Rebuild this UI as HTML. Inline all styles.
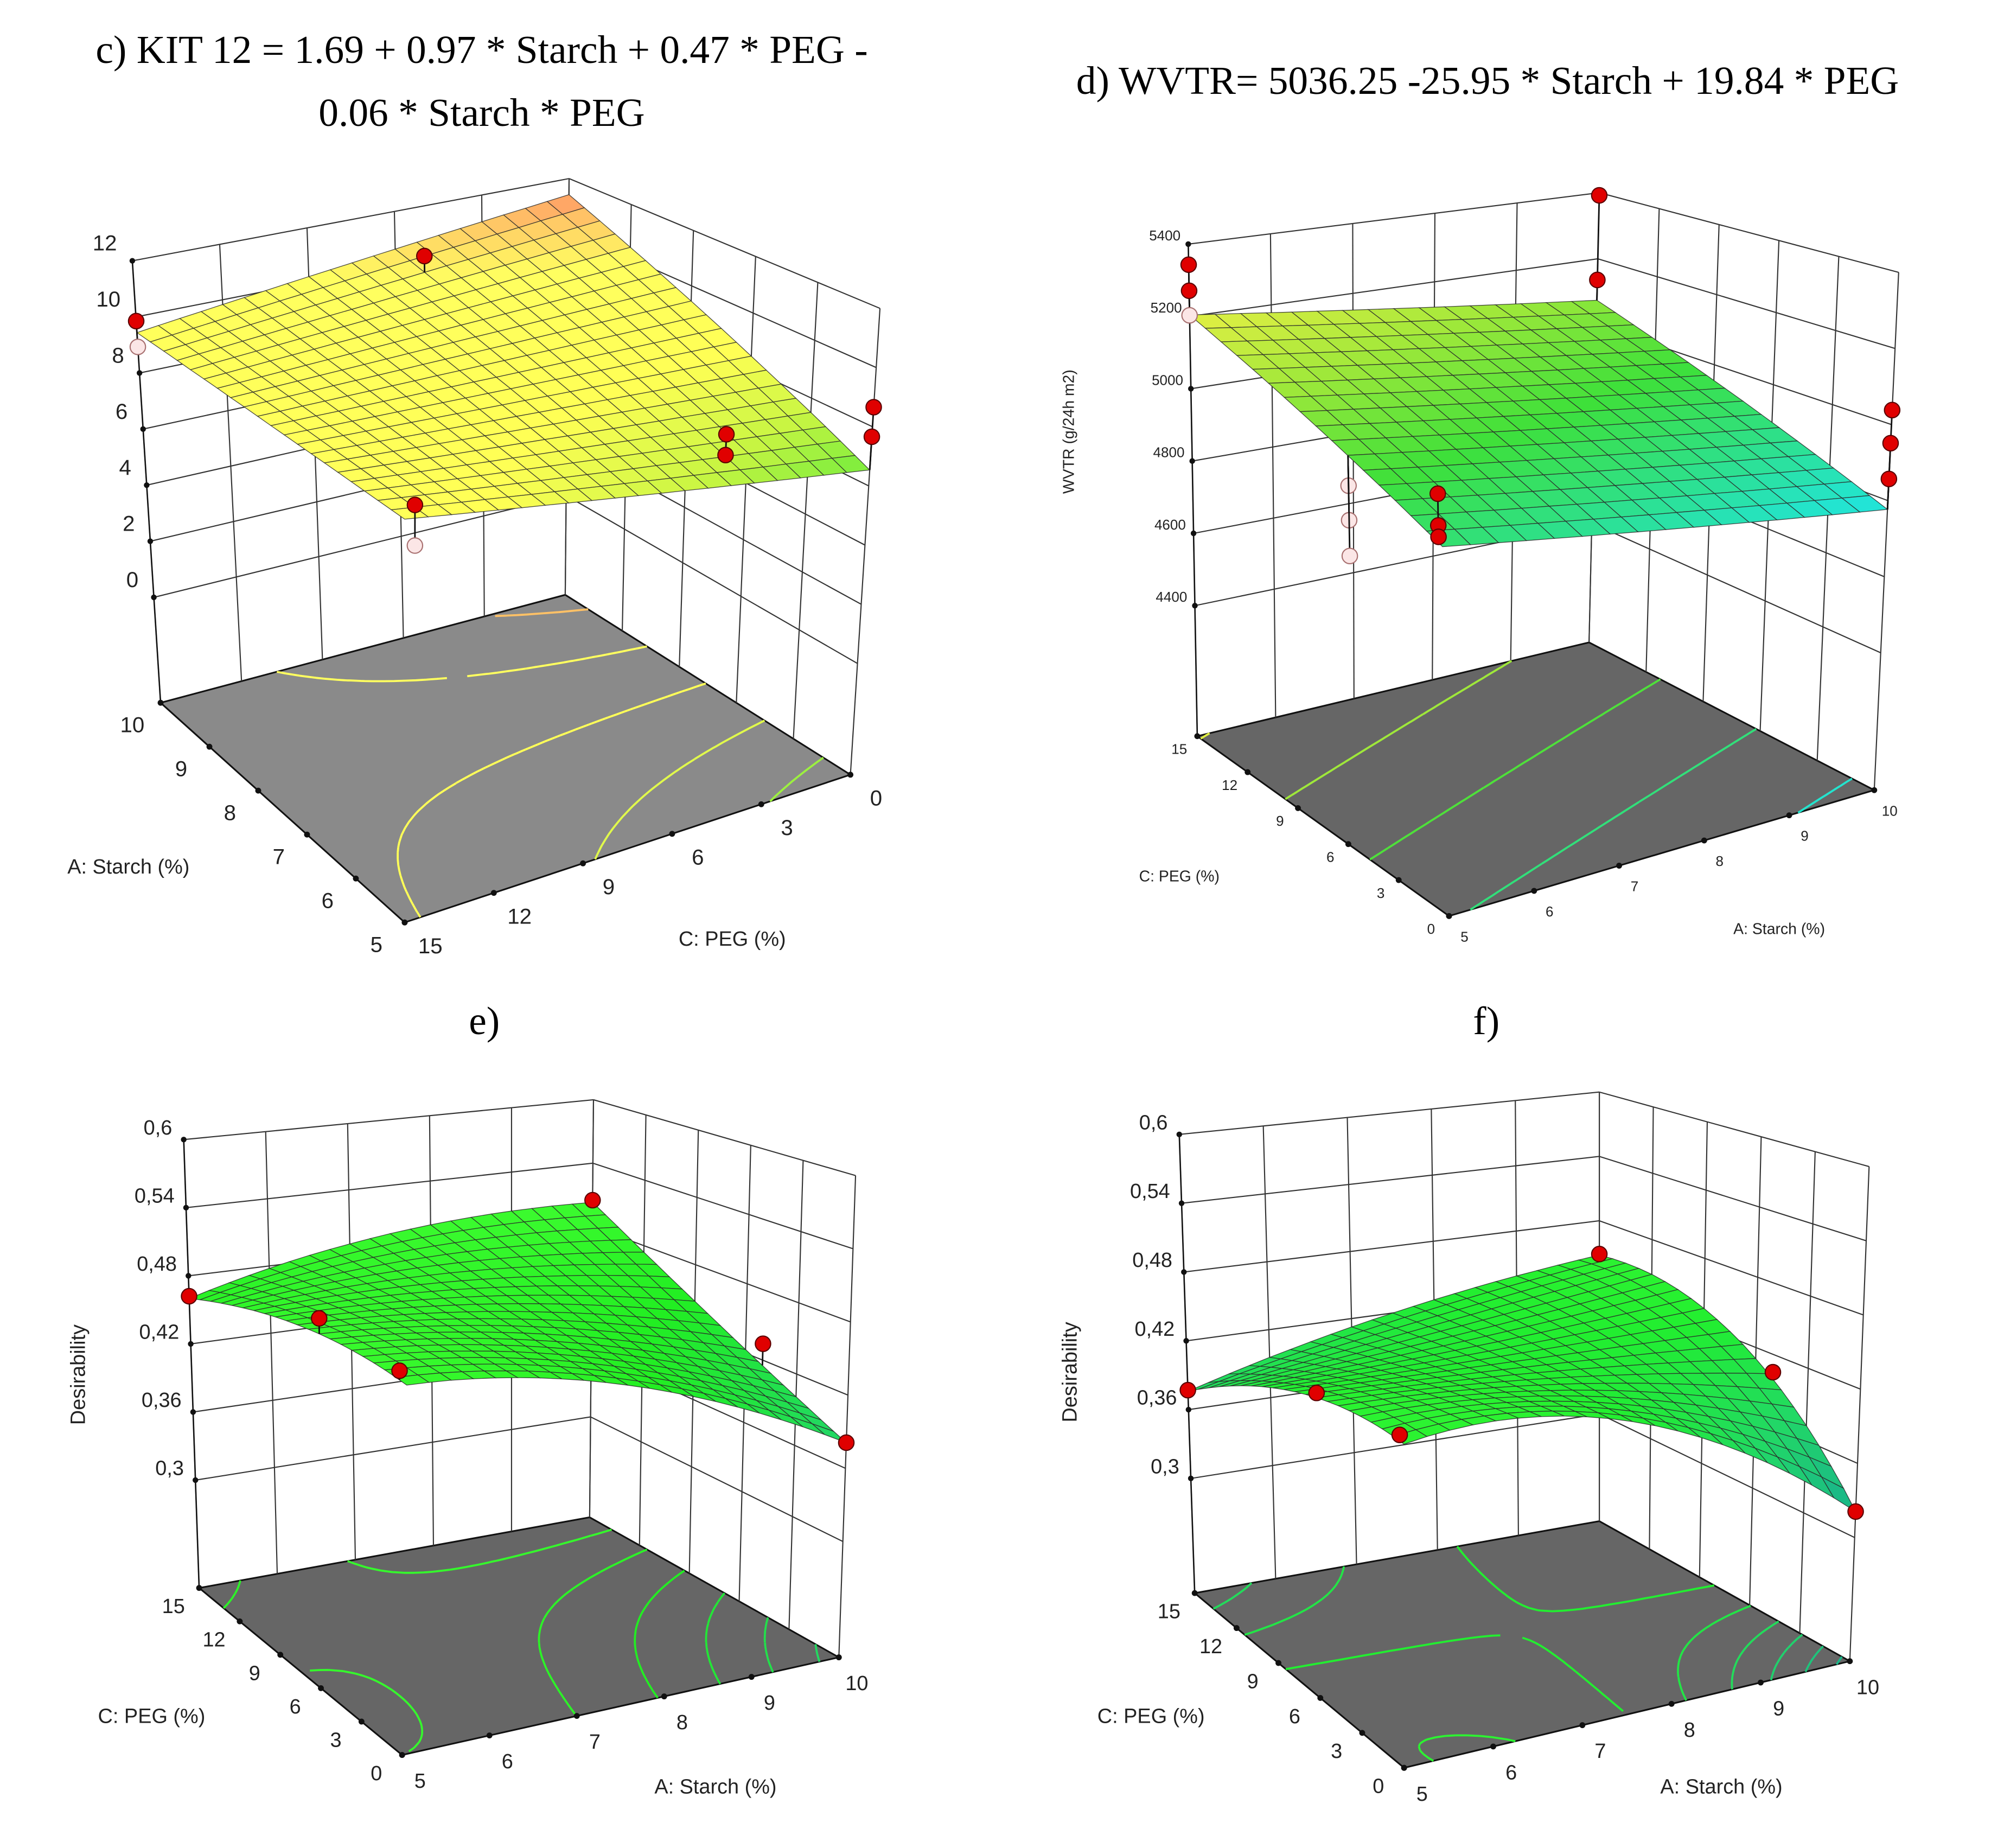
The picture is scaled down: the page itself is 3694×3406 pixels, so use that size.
<!DOCTYPE html>
<html><head><meta charset="utf-8"><style>
html,body{margin:0;padding:0;background:#fff}
svg{display:block}
.ser{font-family:"Liberation Serif",serif;fill:#000}
.san{font-family:"Liberation Sans",sans-serif;fill:#222}
</style></head><body>
<svg id="fig" width="3694" height="3406" viewBox="0 0 1560 1438.4" xmlns="http://www.w3.org/2000/svg">
<rect width="1560" height="1438.4" fill="#fff"/>
<text class="ser" x="375" y="49" font-size="31" text-anchor="middle">c) KIT 12 = 1.69 + 0.97 * Starch + 0.47 * PEG -</text>
<text class="ser" x="375" y="98" font-size="31" text-anchor="middle">0.06 * Starch * PEG</text>
<text class="ser" x="1158" y="73" font-size="31" text-anchor="middle">d) WVTR= 5036.25 -25.95 * Starch + 19.84 * PEG</text>
<text class="ser" x="377" y="805" font-size="31" text-anchor="middle">e)</text>
<text class="ser" x="1157" y="805" font-size="31" text-anchor="middle">f)</text>
<g id="layer"></g>
</svg>
<script>
// ---- data ----
const aTicks=[5,6,7,8,9,10];
const cTicks=[0,3,6,9,12,15];
const kitCoef=[1.69,0.97,0.47,-0.06];
const wvtrCoef=[5036.25,-25.95,19.84];
// desirability surfaces: rows A=5,7.5,10 ; cols C=0,7.5,15
const eGridA5=[0.49,0.49,0.46];
const eGridA75=[0.46,0.475,0.496];
const eGridA10=[0.381,0.435,0.503];
const fGridA5=[0.447,0.435,0.376];
const fGridA75=[0.43,0.43,0.42];
const fGridA10=[0.321,0.425,0.448];
const kitZTicks=[0,2,4,6,8,10,12];
const wvtrZTicks=[4400,4600,4800,5000,5200,5400];
const desZTicks=[0.3,0.36,0.42,0.48,0.54,0.6];
const kitPtA=[10,10,9.5,5.1,5.1,5.5,5.5,5,5];
const kitPtC=[15,15,6,14.5,14.5,3.75,3.75,0,0];
const kitPtZ=[9.85,8.93,10.9,9.3,8.0,8.3,7.6,8.66,7.66];
const wvtrPtA=[5,5,5,10,10,10,10,10,5.05,5.05,5.05,5,5,5];
const wvtrPtC=[15,15,15,15,15,0,0,0,0.5,0.5,0.5,5.6,5.6,5.6];
const wvtrPtZ=[5343,5271,5203,5392,5136,5038,4951,4857,5020,4945,4918,4943,4857,4768];
const ePtA=[5,5,5,10,10,10];
const ePtC=[15,6,0.5,15,5,0];
const ePtZ=[0.462,0.505,0.498,0.505,0.434,0.381];
const fPtA=[5,5,5,10,10,10];
const fPtC=[15,6,0.3,15,5,0];
const fPtZ=[0.377,0.445,0.452,0.449,0.405,0.321];
const kitLevels=[7,8,9,10,11];
const wvtrLevels=[4800,4900,5000,5100,5200];
const eLevels=[0.39,0.41,0.43,0.45,0.47,0.49];
const fLevels=[0.33,0.35,0.37,0.39,0.41,0.43,0.45];

const NS="http://www.w3.org/2000/svg";
const layer=document.getElementById('layer');
function mk(tag,attrs,parent){const e=document.createElementNS(NS,tag);for(const k in attrs)e.setAttribute(k,attrs[k]);(parent||layer).appendChild(e);return e;}
function hex(h){return [parseInt(h.substr(1,2),16),parseInt(h.substr(3,2),16),parseInt(h.substr(5,2),16)];}
function cmap(stops,z){
  if(z<=stops[0][0])return stops[0][1];
  for(let i=1;i<stops.length;i++){if(z<=stops[i][0]){const t=(z-stops[i-1][0])/(stops[i][0]-stops[i-1][0]);const a=hex(stops[i-1][1]),b=hex(stops[i][1]);return 'rgb('+a.map((v,j)=>Math.round(v+(b[j]-v)*t)).join(',')+')';}}
  return stops[stops.length-1][1];
}
function L(t){return [2*(t-.5)*(t-1),-4*t*(t-1),2*t*(t-.5)];}
function quadGrid(g0,g1,g2){return (A,C)=>{const lu=L((A-5)/5),lv=L(C/15);const G=[g0,g1,g2];let s=0;for(let i=0;i<3;i++)for(let j=0;j<3;j++)s+=lu[i]*lv[j]*G[i][j];return s;};}

const panels=[
 {id:'c',F:[[662,603],[315,718],[440,463],[125,547]],T:[[685,240],[315,333],[443,139],[103,203]],zF:-3.76,zT:12,
  fn:(A,C)=>kitCoef[0]+kitCoef[1]*A+kitCoef[2]*C+kitCoef[3]*A*C,
  stops:[[6.0,'#44e83a'],[7.5,'#c8f542'],[8.6,'#ffff55'],[10.2,'#ffff60'],[10.9,'#ffcc66'],[11.5,'#ff8866']],
  floor:'#8a8a8a',front:[0,1],walls:[['u',1],['v',0]],zc:[1,1],
  aEdge:1,cEdge:0,aOff:[-22,17],cOff:[20,18],zTicks:kitZTicks,zFmt:v=>String(v),fs:17,zOff:[-12,-8],
  pA:kitPtA,pC:kitPtC,pZ:kitPtZ,levels:kitLevels,N:20,
  ztitle:null,aTitle:[100,680,'A: Starch (%)'],cTitle:[570,736,'C: PEG (%)'],tfs:16},
 {id:'d',F:[[1128,713],[932,573],[1459,615],[1237,500]],T:[[1120,262],[925,190],[1478,212],[1245,150]],zF:4039,zT:5400,
  fn:(A,C)=>wvtrCoef[0]+wvtrCoef[1]*A+wvtrCoef[2]*C,
  stops:[[4760,'#1ee6f0'],[4880,'#2ee08a'],[4980,'#3ee03a'],[5100,'#9fe83a'],[5220,'#eef045']],
  floor:'#666666',front:[0,0],walls:[['u',1],['v',1]],zc:[0,1],
  aEdge:0,cEdge:0,aOff:[12,16],cOff:[-14,10],zTicks:wvtrZTicks,zFmt:v=>String(v),fs:11,zOff:[-6,-3],
  pA:wvtrPtA,pC:wvtrPtC,pZ:wvtrPtZ,levels:wvtrLevels,N:16,
  ztitle:[836,336,'WVTR (g/24h m2)'],aTitle:[1385,727,'A: Starch (%)'],cTitle:[918,686,'C: PEG (%)'],tfs:12},
 {id:'e',F:[[313,1366],[155,1236],[653,1290],[459,1181]],T:[[318,967],[143,887],[666,915],[462,856]],zF:0.205,zT:0.6,
  fn:quadGrid(eGridA5,eGridA75,eGridA10),
  stops:[[0.33,'#20c0a0'],[0.40,'#22dd55'],[0.45,'#22ee22'],[0.52,'#44ff33']],
  floor:'#666666',front:[0,0],walls:[['u',1],['v',1]],zc:[0,1],
  aEdge:0,cEdge:0,aOff:[14,20],cOff:[-20,14],zTicks:desZTicks,zFmt:v=>String(v).replace('.',','),fs:16,zOff:[-9,-4],
  pA:ePtA,pC:ePtC,pZ:ePtZ,levels:eLevels,N:20,
  ztitle:[66,1070,'Desirability'],aTitle:[557,1396,'A: Starch (%)'],cTitle:[118,1341,'C: PEG (%)'],tfs:16},
 {id:'f',F:[[1093,1376],[930,1240],[1440,1293],[1245,1184]],T:[[1093,968],[918,883],[1455,908],[1245,850]],zF:0.2,zT:0.6,
  fn:quadGrid(fGridA5,fGridA75,fGridA10),
  stops:[[0.32,'#18b090'],[0.38,'#22d866'],[0.43,'#22ee30'],[0.50,'#44ff33']],
  floor:'#666666',front:[0,0],walls:[['u',1],['v',1]],zc:[0,1],
  aEdge:0,cEdge:0,aOff:[14,20],cOff:[-20,14],zTicks:desZTicks,zFmt:v=>String(v).replace('.',','),fs:16,zOff:[-9,-4],
  pA:fPtA,pC:fPtC,pZ:fPtZ,levels:fLevels,N:20,
  ztitle:[838,1068,'Desirability'],aTitle:[1340,1396,'A: Starch (%)'],cTitle:[896,1341,'C: PEG (%)'],tfs:16}
];

function bil(P,u,v){return [0,1].map(k=>(1-u)*(1-v)*P[0][k]+(1-u)*v*P[1][k]+u*(1-v)*P[2][k]+u*v*P[3][k]);}
function proj(p,u,v,z){const f=bil(p.F,u,v),t=bil(p.T,u,v),s=(z-p.zF)/(p.zT-p.zF);return [f[0]+s*(t[0]-f[0]),f[1]+s*(t[1]-f[1])];}
const uA=A=>(A-5)/5, vC=C=>C/15;
function pts(a){return a.map(q=>q[0].toFixed(1)+','+q[1].toFixed(1)).join(' ');}

panels.forEach(p=>{
  const g=mk('g',{});
  
  
  const fl=mk('polygon',{points:pts([proj(p,0,0,p.zF),proj(p,1,0,p.zF),proj(p,1,1,p.zF),proj(p,0,1,p.zF)]),fill:p.floor,stroke:'#111','stroke-width':1.3},g);
  
  
  const wg=mk('g',{stroke:'#333','stroke-width':0.9,fill:'none'},g);
  
  
  p.walls.forEach(w=>{
    const at=(s,z)=>w[0]==='u'?proj(p,w[1],s,z):proj(p,s,w[1],z);
    const ticks=w[0]==='u'?cTicks.map(vC):aTicks.map(uA);
    ticks.forEach(s=>{const a=at(s,p.zF),b=at(s,p.zT);mk('line',{x1:a[0],y1:a[1],x2:b[0],y2:b[1]},wg);});
    p.zTicks.forEach(z=>{const a=at(0,z),b=at(1,z);mk('line',{x1:a[0],y1:a[1],x2:b[0],y2:b[1]},wg);});
  });
  const zg=mk('g',{},g);
  
  
  const z0=proj(p,p.zc[0],p.zc[1],p.zF),z1=proj(p,p.zc[0],p.zc[1],p.zT);
  mk('line',{x1:z0[0],y1:z0[1],x2:z1[0],y2:z1[1],stroke:'#111','stroke-width':1.1},zg);
  p.zTicks.forEach(z=>{const q=proj(p,p.zc[0],p.zc[1],z);
    mk('circle',{cx:q[0],cy:q[1],r:2.2,fill:'#111'},zg);
    const t=mk('text',{x:q[0]+p.zOff[0],y:q[1]+p.zOff[1],'font-size':p.fs,'text-anchor':'end',class:'san'},zg);
    t.textContent=p.zFmt(z);
    
    
  });
  const cg=mk('g',{fill:'none','stroke-width':1.6},g);
  
  
  const M=50,val=[];
  for(let i=0;i<=M;i++){val.push([]);for(let j=0;j<=M;j++)val[i].push(p.fn(5+5*i/M,15*j/M));}
  p.levels.forEach(lv=>{
    let d='';
    for(let i=0;i<M;i++)for(let j=0;j<M;j++){
      const c=[[i,j],[i+1,j],[i+1,j+1],[i,j+1]],xs=[];
      for(let k=0;k<4;k++){const a=c[k],b=c[(k+1)%4];const va=val[a[0]][a[1]],vb=val[b[0]][b[1]];
        if((va-lv)*(vb-lv)<0){const t=(lv-va)/(vb-va);xs.push([(a[0]+t*(b[0]-a[0]))/M,(a[1]+t*(b[1]-a[1]))/M]);}}
      for(let k=0;k+1<xs.length;k+=2){const a=proj(p,xs[k][0],xs[k][1],p.zF),b=proj(p,xs[k+1][0],xs[k+1][1],p.zF);
        d+='M'+a[0].toFixed(1)+' '+a[1].toFixed(1)+'L'+b[0].toFixed(1)+' '+b[1].toFixed(1);}
    }
    const pa=mk('path',{d:d,stroke:cmap(p.stops,lv)},cg);
    
    
  });
  const tg=mk('g',{},g);
  
  
  aTicks.forEach(A=>{const q=proj(p,uA(A),p.aEdge,p.zF);mk('circle',{cx:q[0],cy:q[1],r:2.3,fill:'#111'},tg);
    const t=mk('text',{x:q[0]+p.aOff[0],y:q[1]+p.aOff[1]+p.fs*0.35,'font-size':p.fs,'text-anchor':'middle',class:'san'},tg);t.textContent=A;
    
    });
  cTicks.forEach(C=>{const q=proj(p,p.cEdge,vC(C),p.zF);mk('circle',{cx:q[0],cy:q[1],r:2.3,fill:'#111'},tg);
    const t=mk('text',{x:q[0]+p.cOff[0],y:q[1]+p.cOff[1]+p.fs*0.35,'font-size':p.fs,'text-anchor':'middle',class:'san'},tg);t.textContent=C;
    
    });
  const sg=mk('g',{stroke:'#2a2a2a','stroke-width':0.55,'stroke-opacity':0.85},g);
  
  
  const N=p.N,cells=[];
  for(let i=0;i<N;i++)for(let j=0;j<N;j++){const uc=(i+.5)/N,vc=(j+.5)/N;cells.push([i,j,Math.abs(uc-p.front[0])+Math.abs(vc-p.front[1])]);}
  cells.sort((a,b)=>b[2]-a[2]);
  cells.forEach(([i,j])=>{
    const corners=[[i,j],[i+1,j],[i+1,j+1],[i,j+1]].map(([a,b])=>{const u=a/N,v=b/N;return [u,v,p.fn(5+5*u,15*v)];});
    const zm=corners.reduce((s,c)=>s+c[2],0)/4;
    const poly=mk('polygon',{points:pts(corners.map(c=>proj(p,c[0],c[1],c[2]))),fill:cmap(p.stops,zm)},sg);
    
    
  });
  const pg=mk('g',{},g);
  
  
  p.pA.forEach((A,k)=>{
    const C=p.pC[k],Z=p.pZ[k],u=uA(A),v=vC(C);
    const s=p.fn(A,C),q=proj(p,u,v,Z),r=proj(p,u,v,s);
    mk('line',{x1:q[0],y1:q[1],x2:r[0],y2:r[1],stroke:'#111','stroke-width':1.2},pg);
    const above=Z>=s;
    const ci=mk('circle',{cx:q[0],cy:q[1],r:6,fill:above?'#e00000':'#fbe6e6',stroke:above?'#5a0000':'#a87070','stroke-width':0.9},pg);
    
    
  });
  if(p.ztitle){const t=mk('text',{x:p.ztitle[0],y:p.ztitle[1],'font-size':p.tfs,'text-anchor':'middle',class:'san',transform:'rotate(-90 '+p.ztitle[0]+' '+p.ztitle[1]+')'},g);t.textContent=p.ztitle[2];
    
    }
  const ta=mk('text',{x:p.aTitle[0],y:p.aTitle[1],'font-size':p.tfs,'text-anchor':'middle',class:'san'},g);ta.textContent=p.aTitle[2];
  
  
  const tc=mk('text',{x:p.cTitle[0],y:p.cTitle[1],'font-size':p.tfs,'text-anchor':'middle',class:'san'},g);tc.textContent=p.cTitle[2];
  
  
});
</script>
</body></html>
